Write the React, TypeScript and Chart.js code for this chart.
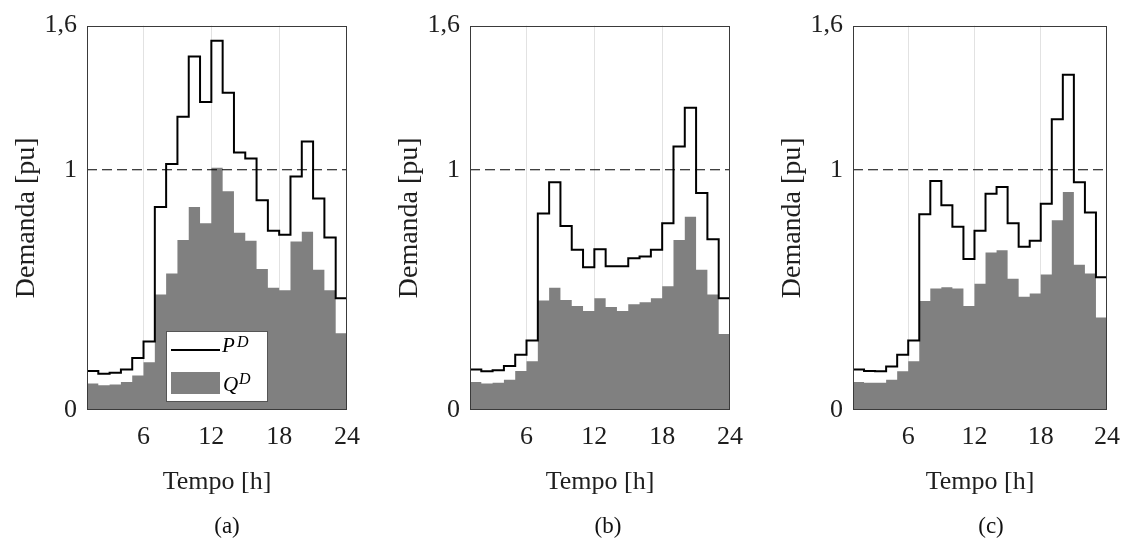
import React, { useEffect, useRef } from 'react';
import { Chart, registerables } from 'chart.js';

Chart.register(...registerables);

// ---------- data ----------
const hours = [1, 2, 3, 4, 5, 6, 7, 8, 9, 10, 11, 12, 13, 14, 15, 16, 17, 18, 19, 20, 21, 22, 23, 24];

const pA = [0.162, 0.151, 0.155, 0.169, 0.216, 0.285, 0.845, 1.024, 1.221, 1.471, 1.282, 1.537, 1.320, 1.072, 1.047, 0.873, 0.746, 0.729, 0.972, 1.118, 0.880, 0.718, 0.465, 0.206];
const qA = [0.110, 0.103, 0.106, 0.117, 0.144, 0.199, 0.481, 0.568, 0.708, 0.845, 0.777, 1.008, 0.911, 0.738, 0.704, 0.587, 0.509, 0.498, 0.701, 0.742, 0.584, 0.498, 0.319, 0.150];

const pB = [0.169, 0.161, 0.165, 0.183, 0.230, 0.289, 0.818, 0.948, 0.766, 0.667, 0.594, 0.669, 0.598, 0.598, 0.632, 0.639, 0.667, 0.777, 1.097, 1.258, 0.903, 0.711, 0.465, 0.217];
const qB = [0.117, 0.110, 0.113, 0.126, 0.162, 0.203, 0.456, 0.509, 0.458, 0.433, 0.412, 0.465, 0.429, 0.412, 0.440, 0.449, 0.465, 0.515, 0.708, 0.804, 0.584, 0.481, 0.316, 0.150];

const pC = [0.169, 0.162, 0.161, 0.181, 0.230, 0.289, 0.815, 0.953, 0.852, 0.763, 0.628, 0.746, 0.900, 0.928, 0.777, 0.680, 0.704, 0.859, 1.210, 1.395, 0.948, 0.822, 0.553, 0.254];
const qC = [0.117, 0.113, 0.113, 0.126, 0.161, 0.203, 0.454, 0.506, 0.511, 0.506, 0.433, 0.525, 0.656, 0.665, 0.546, 0.471, 0.485, 0.564, 0.790, 0.907, 0.605, 0.568, 0.385, 0.180];

const xTicks = [6, 12, 18, 24];
const xGridLines = [6, 12, 18];
const yTicks = [0, 1, 1.6];
const refLevel = 1;
const xMin = 1;
const xMax = 24;
const yMin = 0;
const yMax = 1.6;

const seriesNames = ['P', 'Q'];
const seriesSup = 'D';
const xTitle = 'Tempo [h]';
const yTitle = 'Demanda [pu]';
const captions = ['(a)', '(b)', '(c)'];

// ---------- styling ----------
const SERIF = '"Liberation Serif", "Times New Roman", serif';
const TEXT = '#1e1e1e';
const FILL = '#808080';

const framePlugin = {
  id: 'frame',
  afterDatasetsDraw(chart: any) {
    const { ctx, chartArea: a } = chart;
    ctx.save();
    ctx.strokeStyle = '#3a3a3a';
    ctx.lineWidth = 1;
    ctx.strokeRect(Math.round(a.left) + 0.5, Math.round(a.top) + 0.5, Math.round(a.right - a.left) - 1, Math.round(a.bottom - a.top) - 1);
    ctx.restore();
  },
};

const legendPlugin = {
  id: 'innerLegend',
  afterDatasetsDraw(chart: any) {
    const { ctx, chartArea: a } = chart;
    const bx = Math.round(a.left) + 79;
    const by = Math.round(a.top) + 305;
    const bw = 101;
    const bh = 70;
    ctx.save();
    ctx.fillStyle = '#ffffff';
    ctx.fillRect(bx, by, bw, bh);
    ctx.strokeStyle = '#555555';
    ctx.lineWidth = 1;
    ctx.strokeRect(bx + 0.5, by + 0.5, bw, bh);
    // line sample
    ctx.strokeStyle = '#000000';
    ctx.lineWidth = 2;
    ctx.beginPath();
    ctx.moveTo(bx + 5, by + 19);
    ctx.lineTo(bx + 54, by + 19);
    ctx.stroke();
    // fill sample
    ctx.fillStyle = FILL;
    ctx.fillRect(bx + 5, by + 41, 49, 22);
    // labels
    ctx.fillStyle = '#000000';
    ctx.textBaseline = 'alphabetic';
    ctx.textAlign = 'left';
    ctx.font = `italic 21px ${SERIF}`;
    ctx.fillText(seriesNames[0], bx + 56, by + 21);
    ctx.fillText(seriesNames[1], bx + 57, by + 60);
    ctx.font = `italic 16px ${SERIF}`;
    ctx.fillText(seriesSup, bx + 71, by + 16);
    ctx.fillText(seriesSup, bx + 73, by + 53);
    ctx.restore();
  },
};

type PanelProps = {
  p: number[];
  q: number[];
  left: number;
  width: number;
  rightPad: number;
  legend: boolean;
};

function Panel({ p, q, left, width, rightPad, legend }: PanelProps) {
  const ref = useRef<HTMLCanvasElement | null>(null);

  useEffect(() => {
    if (!ref.current) return;
    const pData = hours.map((h, i) => ({ x: h, y: p[i] }));
    const qData = hours.map((h, i) => ({ x: h, y: q[i] }));
    const refData = [
      { x: xMin, y: refLevel },
      { x: xMax, y: refLevel },
    ];
    const chart = new Chart(ref.current, {
      type: 'line',
      data: {
        datasets: [
          {
            label: 'P^D',
            data: pData,
            stepped: 'before',
            borderColor: '#000000',
            borderWidth: 2,
            pointRadius: 0,
            fill: false,
          },
          {
            label: 'ref',
            data: refData,
            borderColor: '#000000',
            borderWidth: 1,
            borderDash: [10, 5],
            pointRadius: 0,
            fill: false,
          },
          {
            label: 'Q^D',
            data: qData,
            stepped: 'before',
            borderColor: 'transparent',
            borderWidth: 0,
            backgroundColor: FILL,
            pointRadius: 0,
            fill: 'origin',
          },
        ],
      } as any,
      options: {
        responsive: false,
        maintainAspectRatio: false,
        animation: false,
        devicePixelRatio: 1,
        layout: { padding: { top: 22, right: rightPad, bottom: 29, left: 0 } },
        plugins: {
          legend: { display: false },
          tooltip: { enabled: false },
          title: { display: false },
        },
        scales: {
          x: {
            type: 'linear',
            min: xMin,
            max: xMax,
            afterBuildTicks: (s: any) => {
              s.ticks = xTicks.map((v) => ({ value: v }));
            },
            afterFit: (s: any) => {
              s.height = 100;
            },
            grid: {
              display: true,
              drawTicks: false,
              color: (c: any) => (c.tick && xGridLines.includes(c.tick.value) ? '#e2e2e2' : 'transparent'),
              lineWidth: 1,
            },
            border: { display: false },
            ticks: {
              padding: 12,
              color: TEXT,
              font: { family: SERIF, size: 26 },
              maxRotation: 0,
              autoSkip: false,
              callback: (v: any) => String(v),
            },
            title: {
              display: true,
              text: xTitle,
              color: TEXT,
              font: { family: SERIF, size: 26 },
              padding: { top: 0, bottom: 12 },
            },
          },
          y: {
            type: 'linear',
            min: yMin,
            max: yMax,
            afterBuildTicks: (s: any) => {
              s.ticks = yTicks.map((v) => ({ value: v }));
            },
            afterFit: (s: any) => {
              s.width = 87;
            },
            grid: { display: false, drawTicks: false },
            border: { display: false },
            ticks: {
              padding: 10,
              color: TEXT,
              font: { family: SERIF, size: 26 },
              autoSkip: false,
              callback: (v: any) => String(v).replace('.', ','),
            },
            title: {
              display: true,
              text: yTitle,
              color: TEXT,
              font: { family: SERIF, size: 28 },
              padding: { top: 10, bottom: 0 },
            },
          },
        },
      } as any,
      plugins: legend ? [framePlugin, legendPlugin] : [framePlugin],
    });
    return () => chart.destroy();
  }, [p, q, left, width, rightPad, legend]);

  return (
    <canvas
      ref={ref}
      width={width}
      height={539}
      style={{ position: 'absolute', left, top: 0, width, height: 539, display: 'block' }}
    />
  );
}

const captionStyle = (cx: number): React.CSSProperties => ({
  position: 'absolute',
  left: cx - 40,
  width: 80,
  top: 512,
  lineHeight: '28px',
  textAlign: 'center',
  fontFamily: SERIF,
  fontSize: 23,
  color: '#111',
});

export default function App() {
  return (
    <div style={{ position: 'absolute', left: 0, top: 0, width: 1132, height: 539, background: '#fff', overflow: 'hidden' }}>
      <Panel p={pA} q={qA} left={0} width={383} rightPad={36} legend={true} />
      <Panel p={pB} q={qB} left={383} width={383} rightPad={36} legend={false} />
      <Panel p={pC} q={qC} left={766} width={366} rightPad={19} legend={false} />
      <div style={captionStyle(227)}>{captions[0]}</div>
      <div style={captionStyle(608)}>{captions[1]}</div>
      <div style={captionStyle(991)}>{captions[2]}</div>
    </div>
  );
}
